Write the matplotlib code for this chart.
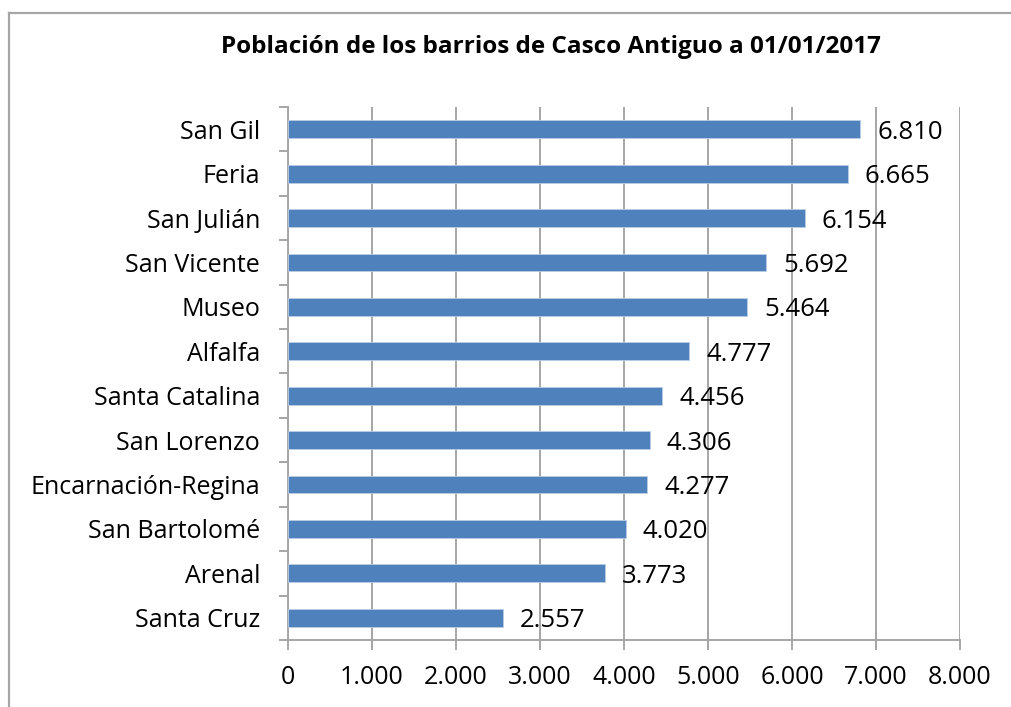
import matplotlib.pyplot as plt
from matplotlib.lines import Line2D
from matplotlib.ticker import FixedLocator, FuncFormatter

barrios = ["San Gil", "Feria", "San Julián", "San Vicente", "Museo", "Alfalfa",
           "Santa Catalina", "San Lorenzo", "Encarnación-Regina", "San Bartolomé",
           "Arenal", "Santa Cruz"]
poblacion = [6810, 6665, 6154, 5692, 5464, 4777, 4456, 4306, 4277, 4020, 3773, 2557]
x_ticks = [0, 1000, 2000, 3000, 4000, 5000, 6000, 7000, 8000]

plt.rcParams["font.family"] = ["Open Sans", "DejaVu Sans"]
grey = "#a6a6a6"
blue = "#4f81bd"

def miles(v, pos=None):
    return f"{int(v):,}".replace(",", ".")

fig = plt.figure(figsize=(10.12, 7.07), dpi=100)
ax = fig.add_axes([288 / 1012, 1 - 640 / 707, 672 / 1012, 533 / 707])

n = len(barrios)
ypos = list(range(n))[::-1]
ax.barh(ypos, poblacion, height=0.4, color=blue, edgecolor="#b9cde5", linewidth=0.6, zorder=3)

# etiquetas de datos a la derecha de cada barra
for y, v in zip(ypos, poblacion):
    ax.annotate(miles(v), (v, y), xytext=(17, -3), textcoords="offset pixels",
                ha="left", va="center", fontsize=18.5, zorder=4)

ax.set_xlim(0, 8000)
ax.set_ylim(-0.5, n - 0.5)
ax.set_xticks(x_ticks)
ax.xaxis.set_major_formatter(FuncFormatter(miles))
ax.set_yticks(ypos)
ax.set_yticklabels(barrios)
ax.yaxis.set_minor_locator(FixedLocator([i - 0.5 for i in range(n + 1)]))

ax.grid(axis="x", color=grey, linewidth=1.4, zorder=0)
for s in ["top", "right"]:
    ax.spines[s].set_visible(False)
for s in ["left", "bottom"]:
    ax.spines[s].set_color(grey)
    ax.spines[s].set_linewidth(1.4)

ax.tick_params(axis="y", which="major", length=0, pad=20, labelsize=18)
ax.tick_params(axis="y", which="minor", length=6.5, width=1.4, color=grey)
ax.tick_params(axis="x", which="major", length=7, width=1.4, color=grey, pad=11, labelsize=18)

fig.text(551 / 1012, 1 - 47 / 707, "Población de los barrios de Casco Antiguo a 01/01/2017",
         ha="center", va="center", fontsize=17.5, fontweight="bold")

# marco del gráfico
fig.add_artist(Line2D([9 / 1012, 9 / 1012], [0, 1 - 13 / 707], color=grey, linewidth=1.6,
                      transform=fig.transFigure))
fig.add_artist(Line2D([9 / 1012, 1], [1 - 13 / 707, 1 - 13 / 707], color=grey, linewidth=1.6,
                      transform=fig.transFigure))

fig.savefig("out.png", dpi=100)
